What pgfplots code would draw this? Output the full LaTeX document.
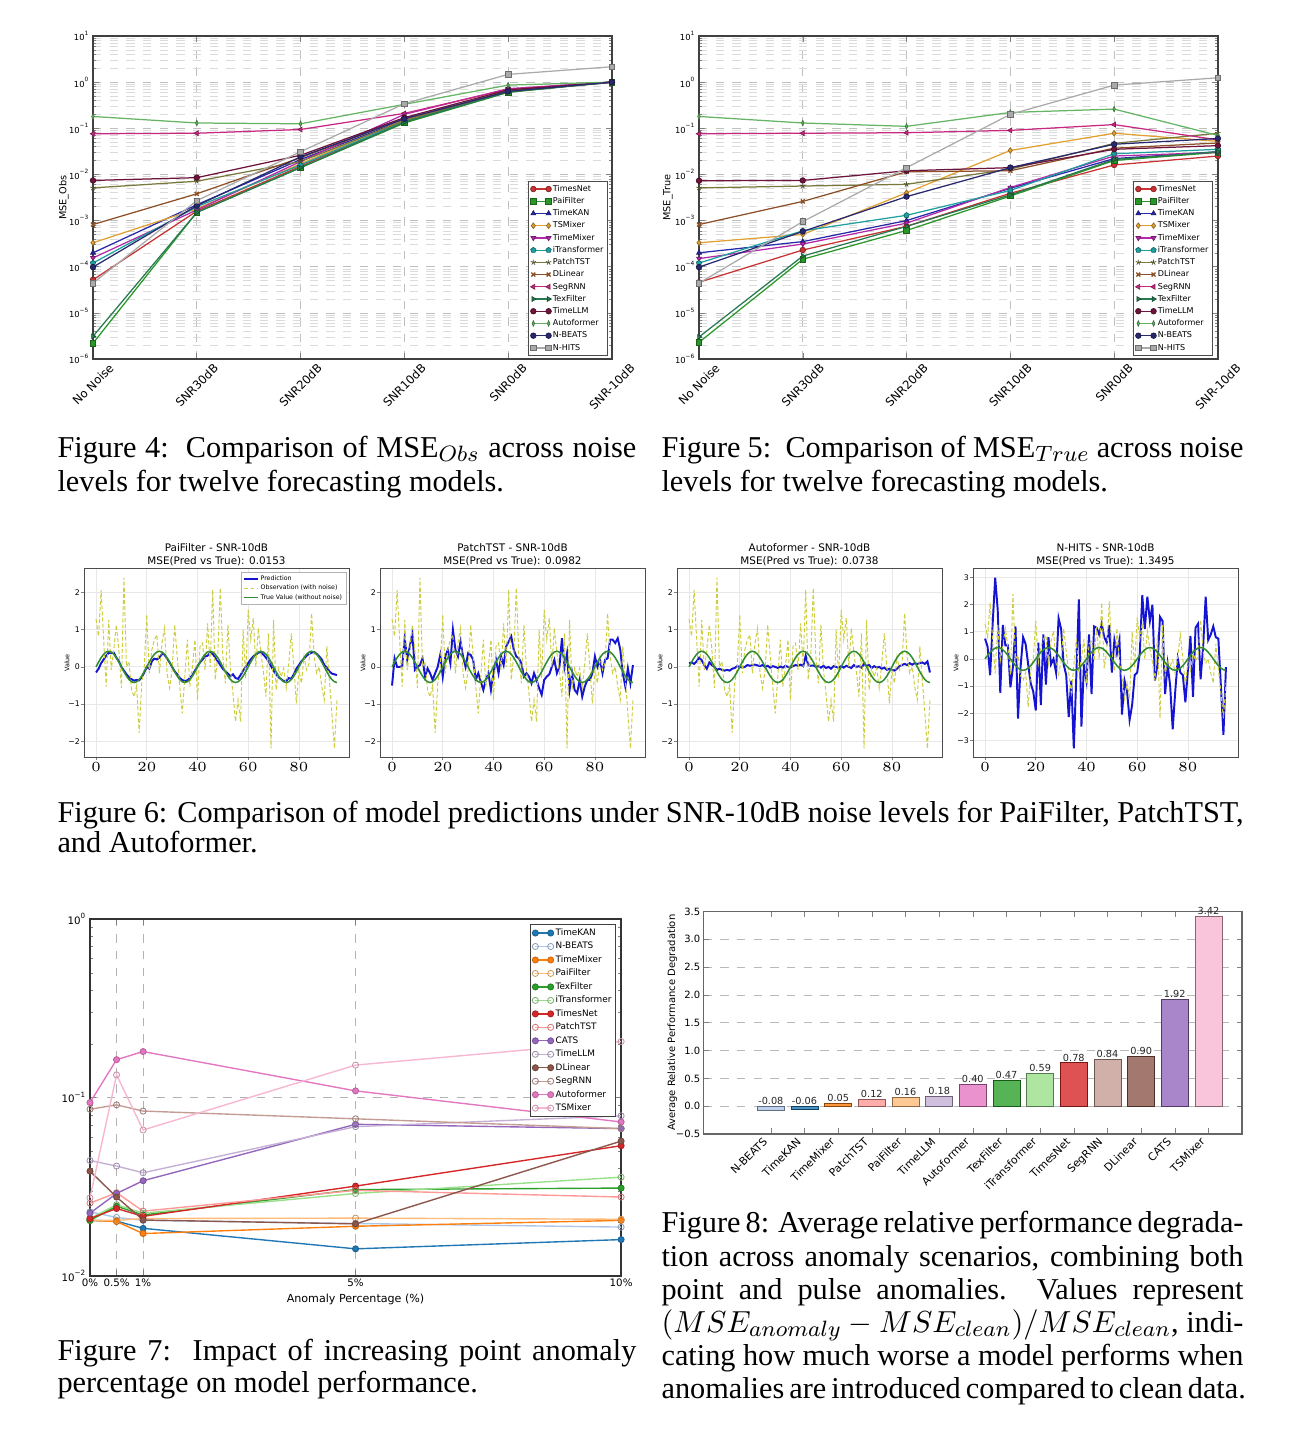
\documentclass[border=0pt]{standalone}
\usepackage{graphicx}
\usepackage{pgfplots}
\pgfplotsset{compat=1.18}
\usepackage{pgfplotstable}
\usepackage{fontspec}
\setmainfont{Liberation Serif}
\newfontfamily\dv{DejaVu Sans}
\newcommand\fs[1]{\dv\fontsize{#1}{#1}\selectfont}
\newcommand\capf{\fontsize{10.9}{13}\selectfont}
\newcommand\rt[1]{\rotatebox{45}{#1}}

\definecolor{cTN}{RGB}{200,50,50}
\definecolor{cPF}{RGB}{40,150,40}
\definecolor{cTK}{RGB}{40,40,170}
\definecolor{cTS}{RGB}{225,160,50}
\definecolor{cTM}{RGB}{180,40,170}
\definecolor{cIT}{RGB}{30,160,160}
\definecolor{cPT}{RGB}{120,120,60}
\definecolor{cDL}{RGB}{140,80,40}
\definecolor{cSR}{RGB}{200,40,130}
\definecolor{cTF}{RGB}{40,120,80}
\definecolor{cLL}{RGB}{110,20,60}
\definecolor{cAF}{RGB}{100,180,100}
\definecolor{cNB}{RGB}{40,40,110}
\definecolor{cNH}{RGB}{170,170,170}

\definecolor{ta}{RGB}{31,119,180}
\definecolor{tb}{RGB}{174,199,232}
\definecolor{tc}{RGB}{255,127,14}
\definecolor{td}{RGB}{255,187,120}
\definecolor{te}{RGB}{44,160,44}
\definecolor{tf}{RGB}{152,223,138}
\definecolor{tg}{RGB}{214,39,40}
\definecolor{th}{RGB}{255,152,150}
\definecolor{ti}{RGB}{148,103,189}
\definecolor{tj}{RGB}{197,176,213}
\definecolor{tk}{RGB}{140,86,75}
\definecolor{tl}{RGB}{196,156,148}
\definecolor{tm}{RGB}{227,119,194}
\definecolor{tn}{RGB}{247,182,210}

\definecolor{obscol}{RGB}{205,205,65}
\definecolor{truecol}{RGB}{50,140,50}
\definecolor{predcol}{RGB}{20,20,210}

\pgfplotstableread{
x TN PF TK TS TM IT PT DL SR TF LL AF NB NH
0 5.2e-5 2.2e-6 2.0e-4 3.3e-4 1.55e-4 1.2e-4 5.1e-3 8.2e-4 0.076 3.1e-6 7.4e-3 0.18 9.8e-5 4.4e-5
1 1.6e-3 1.5e-3 2.2e-3 1.8e-3 1.7e-3 2.0e-3 7.1e-3 3.8e-3 0.078 1.5e-3 8.5e-3 0.13 2.1e-3 2.7e-3
2 0.015 0.014 0.021 0.017 0.019 0.016 0.019 0.023 0.094 0.014 0.026 0.125 0.024 0.031
3 0.14 0.13 0.15 0.15 0.20 0.14 0.145 0.16 0.21 0.135 0.17 0.33 0.16 0.34
4 0.62 0.60 0.64 0.66 0.72 0.64 0.65 0.62 0.70 0.61 0.68 0.86 0.63 1.47
5 1.0 1.0 1.0 1.0 1.0 1.0 1.0 1.0 1.0 1.0 1.0 1.0 1.0 2.15
}\figfour

\pgfplotstableread{
x TN PF TK TS TM IT PT DL SR TF LL AF NB NH
0 4.6e-5 2.3e-6 2.0e-4 3.3e-4 1.5e-4 1.2e-4 5.1e-3 8.2e-4 0.076 3.0e-6 7.3e-3 0.18 9.8e-5 4.4e-5
1 2.3e-4 1.45e-4 3.5e-4 5.0e-4 3.1e-4 6.0e-4 5.6e-3 2.6e-3 0.078 1.7e-4 7.4e-3 0.13 5.8e-4 9.5e-4
2 7.5e-4 6.1e-4 1.0e-3 4.0e-3 8.8e-4 1.3e-3 6.1e-3 0.0114 0.08 7.5e-4 0.012 0.11 3.3e-3 0.014
3 3.9e-3 3.4e-3 5.0e-3 0.033 5.2e-3 4.5e-3 0.013 0.012 0.09 3.6e-3 0.014 0.22 0.014 0.20
4 0.016 0.020 0.022 0.078 0.025 0.028 0.047 0.037 0.12 0.021 0.035 0.26 0.045 0.86
5 0.025 0.030 0.031 0.052 0.030 0.035 0.078 0.048 0.056 0.031 0.042 0.070 0.060 1.24
}\figfive

\pgfplotstableread{
t obs true p1 p2 p3 p4
0 1.28 0.000 -0.15 -0.50 0.10 0.75
1 0.82 0.130 -0.05 0.23 0.12 0.45
2 2.07 0.247 0.10 0.00 0.08 -0.60
3 0.73 0.340 0.20 0.00 0.15 1.30
4 -0.53 0.399 0.30 0.02 0.25 3.00
5 1.26 0.420 0.38 0.77 0.18 1.80
6 -0.08 0.399 0.37 0.19 0.05 -1.25
7 0.46 0.340 0.38 0.55 -0.05 1.25
8 1.13 0.247 0.25 0.90 0.12 0.50
9 0.46 0.130 0.15 -0.08 0.05 0.50
10 -0.57 0.000 0.00 0.00 0.00 -1.05
11 2.40 -0.130 -0.10 0.05 -0.08 -0.30
12 0.00 -0.247 -0.20 0.23 -0.05 1.20
13 0.14 -0.340 -0.28 -0.26 -0.08 -2.20
14 -0.62 -0.399 -0.33 -0.04 -0.10 -0.30
15 -0.80 -0.420 -0.37 -0.17 -0.08 0.80
16 -0.50 -0.399 -0.35 -0.35 -0.10 0.55
17 -1.77 -0.340 -0.36 -0.17 -0.05 -0.20
18 -0.44 -0.247 -0.28 0.00 -0.03 -0.90
19 0.00 -0.130 -0.15 0.32 0.02 -1.20
20 1.40 0.000 0.00 -0.26 0.00 -1.90
21 -0.17 0.130 -0.05 0.28 -0.02 0.60
22 0.46 0.247 0.15 0.46 0.00 -1.70
23 0.73 0.340 0.22 0.10 0.05 0.90
24 0.86 0.399 0.20 1.00 0.03 -0.95
25 -0.17 0.420 0.25 0.46 0.05 0.80
26 0.64 0.399 0.35 0.28 0.06 -0.20
27 1.04 0.340 0.33 0.68 0.04 0.00
28 -0.17 0.247 0.22 0.28 0.02 -0.50
29 -0.57 0.130 0.12 0.00 0.05 1.50
30 -0.08 0.000 0.00 0.37 0.00 1.10
31 1.13 -0.130 -0.12 0.32 0.03 -0.20
32 0.28 -0.247 -0.20 0.19 -0.02 -0.60
33 -0.53 -0.340 -0.30 -0.35 0.02 -2.15
34 -1.25 -0.399 -0.35 -0.17 0.00 -0.80
35 -0.26 -0.420 -0.38 -0.40 -0.03 -3.30
36 0.73 -0.399 -0.36 -0.62 0.01 -0.60
37 -0.53 -0.340 -0.30 -0.35 -0.02 2.20
38 0.00 -0.247 -0.22 -0.17 0.03 -2.50
39 0.73 -0.130 -0.10 -0.62 0.00 -0.20
40 -0.89 0.000 0.02 -0.17 -0.02 -0.80
41 0.55 0.130 0.12 0.19 0.02 0.90
42 0.64 0.247 0.20 -0.17 0.05 -1.30
43 -0.08 0.340 0.28 0.28 0.03 1.20
44 1.17 0.399 0.30 0.05 0.06 1.15
45 0.00 0.420 0.38 0.55 0.02 0.90
46 2.07 0.399 0.35 0.68 0.30 1.30
47 -0.35 0.340 0.25 0.82 0.05 0.80
48 0.32 0.247 0.15 0.46 0.03 0.60
49 2.12 0.130 0.05 0.28 0.04 1.25
50 0.28 0.000 -0.05 0.23 0.00 -0.50
51 -0.44 -0.130 -0.12 0.10 0.02 0.70
52 1.13 -0.247 -0.18 -0.26 -0.02 0.20
53 -0.08 -0.340 -0.25 -0.17 0.03 0.70
54 -0.71 -0.399 -0.20 -0.26 -0.03 -2.05
55 -1.47 -0.420 -0.30 -0.44 0.00 -0.80
56 -0.89 -0.399 -0.32 -0.17 -0.05 -1.20
57 -1.47 -0.340 -0.22 -0.35 0.02 -2.25
58 1.00 -0.247 -0.10 -0.57 0.00 -1.70
59 -0.30 -0.130 0.00 -0.75 -0.03 -0.60
60 1.53 0.000 0.10 -0.35 0.02 -0.50
61 0.73 0.130 0.20 -0.26 -0.02 0.20
62 1.31 0.247 0.28 -0.20 0.03 2.35
63 0.00 0.340 0.33 0.00 0.00 1.10
64 1.04 0.399 0.38 0.19 -0.03 2.30
65 0.37 0.420 0.40 -0.17 0.05 1.40
66 -0.12 0.399 0.33 0.00 0.00 2.00
67 -0.80 0.340 0.25 0.77 0.02 -0.80
68 0.90 0.247 0.15 0.00 -0.02 -0.20
69 -2.19 0.130 0.02 0.37 0.08 1.55
70 1.26 0.000 -0.10 -0.62 0.03 1.40
71 -0.62 -0.130 -0.20 -0.17 0.05 -1.30
72 -0.04 -0.247 -0.28 -0.62 -0.03 -0.20
73 -0.26 -0.340 -0.33 -0.71 0.02 -1.00
74 -0.04 -0.399 -0.38 -0.35 -0.02 -2.60
75 -0.57 -0.420 -0.38 -0.80 0.00 -1.20
76 0.10 -0.399 -0.30 -0.53 -0.05 0.00
77 0.90 -0.340 -0.32 -0.35 -0.02 -0.50
78 0.00 -0.247 -0.20 -0.35 -0.08 -0.60
79 -0.98 -0.130 -0.05 -0.17 -0.05 -1.60
80 -0.08 0.000 0.05 0.28 -0.08 -0.40
81 -0.44 0.130 0.15 0.00 -0.10 0.85
82 0.28 0.247 0.22 0.19 -0.05 -1.40
83 -0.08 0.340 0.30 -0.17 0.02 1.15
84 0.10 0.399 0.35 0.19 0.05 1.30
85 1.44 0.420 0.38 0.23 0.08 -0.75
86 0.28 0.399 0.40 0.73 0.05 0.45
87 -0.17 0.340 0.35 0.73 0.10 2.30
88 0.00 0.247 0.28 0.64 0.06 0.70
89 -0.53 0.130 0.20 0.77 0.10 0.90
90 -0.89 0.000 0.05 0.46 0.08 1.20
91 0.55 -0.130 -0.02 -0.17 0.10 0.80
92 -0.35 -0.247 -0.12 -0.53 0.12 0.75
93 -1.25 -0.340 -0.18 -0.04 0.08 -1.00
94 -2.19 -0.399 -0.20 -0.44 0.15 -2.80
95 -0.89 -0.420 -0.22 0.05 -0.15 -0.30
}\figsix

\pgfplotstableread{
x TK NB TM PF TF IT TN PT CA LL DL SR AF TS
0 0.0205 0.0229 0.0205 0.0205 0.0205 0.0210 0.0210 0.0256 0.0225 0.0444 0.0387 0.086 0.0937 0.0274
0.5 0.0203 0.0213 0.0202 0.0205 0.0246 0.0251 0.0239 0.0293 0.0290 0.0413 0.0277 0.091 0.163 0.134
1 0.0185 0.0205 0.0173 0.0210 0.0220 0.0225 0.0216 0.0231 0.0342 0.0379 0.0206 0.084 0.181 0.0658
5 0.0142 0.0197 0.0190 0.0211 0.0305 0.0290 0.0319 0.0302 0.0708 0.0687 0.0196 0.076 0.109 0.152
10 0.0160 0.0188 0.0205 0.0208 0.0311 0.0358 0.0537 0.0277 0.0670 0.0790 0.0570 0.067 0.073 0.206
}\figseven

\tikzset{
 mk/.style n args={3}{color=#1, line width=0.45pt, mark=#2, mark size=1pt,
   mark options={solid, fill=#1, draw=#1!65!black, line width=0.25pt, #3}},
 sv/.style n args={2}{color=#1, line width=0.5pt, mark=#2, mark size=1.1pt,
   mark options={solid, fill=#1, draw=#1!80!black, line width=0.3pt}},
 obsline/.style={obscol, line width=0.35pt, dash pattern=on 1.4pt off 0.8pt},
}

\begin{document}
\begin{tikzpicture}
\useasboundingbox (0pt,0pt) rectangle (467.64pt,-514.44pt);

% ---------------- Figure 4 ----------------
\begin{axis}[anchor=south west, at={(33.48pt,-129.24pt)}, scale only axis, width=186.8pt, height=116.3pt,
   xmin=0, xmax=5, ymode=log, ymin=1e-6, ymax=10,
   xtick={0,...,5}, xticklabels={\rt{No Noise},\rt{SNR30dB},\rt{SNR20dB},\rt{SNR10dB},\rt{SNR0dB},\rt{SNR-10dB}},
   xticklabel style={anchor=north, font=\fs{4.2}, inner sep=1.2pt},
   ytick={1e-6,1e-5,1e-4,1e-3,1e-2,1e-1,1,10},
   yticklabels={10\textsuperscript{−6},10\textsuperscript{−5},10\textsuperscript{−4},10\textsuperscript{−3},10\textsuperscript{−2},10\textsuperscript{−1},10\textsuperscript{0},10\textsuperscript{1}},
   yticklabel style={font=\fs{3}, inner sep=1pt},
   ylabel={MSE\_Obs}, ylabel style={font=\fs{3.5}, at={(axis description cs:-0.056,0.5)}, anchor=center},
   grid=both, major grid style={dashed, gray!50, line width=0.25pt},
   minor grid style={dashed, gray!28, line width=0.2pt},
   tick align=inside, major tick length=2pt, minor tick length=1pt,
   axis line style={black!75, line width=0.45pt},
   legend cell align=left,
   legend style={at={(0.992,0.009)}, anchor=south east, font=\fs{2.9}, draw=black!70, line width=0.35pt, inner sep=0.8pt, row sep=0.45pt,
     nodes={inner sep=0.55pt, text height=2.25pt, text depth=0.6pt}},
   legend image code/.code={\draw[#1] plot coordinates {(0pt,0pt) (5.5pt,0pt)};}]
\addplot[mk={cTN}{*}{}] table[x=x,y=TN]{\figfour};
\addplot[mk={cPF}{square*}{}] table[x=x,y=PF]{\figfour};
\addplot[mk={cTK}{triangle*}{}] table[x=x,y=TK]{\figfour};
\addplot[mk={cTS}{diamond*}{}] table[x=x,y=TS]{\figfour};
\addplot[mk={cTM}{triangle*}{rotate=180}] table[x=x,y=TM]{\figfour};
\addplot[mk={cIT}{pentagon*}{}] table[x=x,y=IT]{\figfour};
\addplot[mk={cPT}{star}{}] table[x=x,y=PT]{\figfour};
\addplot[mk={cDL}{x}{line width=0.5pt, draw=cDL}] table[x=x,y=DL]{\figfour};
\addplot[mk={cSR}{triangle*}{rotate=90}] table[x=x,y=SR]{\figfour};
\addplot[mk={cTF}{triangle*}{rotate=-90}] table[x=x,y=TF]{\figfour};
\addplot[mk={cLL}{*}{}] table[x=x,y=LL]{\figfour};
\addplot[mk={cAF}{diamond*}{xscale=0.6}] table[x=x,y=AF]{\figfour};
\addplot[mk={cNB}{*}{}] table[x=x,y=NB]{\figfour};
\addplot[mk={cNH}{square*}{}] table[x=x,y=NH]{\figfour};
\legend{TimesNet,PaiFilter,TimeKAN,TSMixer,TimeMixer,iTransformer,PatchTST,DLinear,SegRNN,TexFilter,TimeLLM,Autoformer,N-BEATS,N-HITS}
\end{axis}

% ---------------- Figure 5 ----------------
\begin{axis}[anchor=south west, at={(251.64pt,-129.24pt)}, scale only axis, width=186.8pt, height=116.3pt,
   xmin=0, xmax=5, ymode=log, ymin=1e-6, ymax=10,
   xtick={0,...,5}, xticklabels={\rt{No Noise},\rt{SNR30dB},\rt{SNR20dB},\rt{SNR10dB},\rt{SNR0dB},\rt{SNR-10dB}},
   xticklabel style={anchor=north, font=\fs{4.2}, inner sep=1.2pt},
   ytick={1e-6,1e-5,1e-4,1e-3,1e-2,1e-1,1,10},
   yticklabels={10\textsuperscript{−6},10\textsuperscript{−5},10\textsuperscript{−4},10\textsuperscript{−3},10\textsuperscript{−2},10\textsuperscript{−1},10\textsuperscript{0},10\textsuperscript{1}},
   yticklabel style={font=\fs{3}, inner sep=1pt},
   ylabel={MSE\_True}, ylabel style={font=\fs{3.5}, at={(axis description cs:-0.06,0.5)}, anchor=center},
   grid=both, major grid style={dashed, gray!50, line width=0.25pt},
   minor grid style={dashed, gray!28, line width=0.2pt},
   tick align=inside, major tick length=2pt, minor tick length=1pt,
   axis line style={black!75, line width=0.45pt},
   legend cell align=left,
   legend style={at={(0.990,0.009)}, anchor=south east, font=\fs{2.9}, draw=black!70, line width=0.35pt, inner sep=0.8pt, row sep=0.45pt,
     nodes={inner sep=0.55pt, text height=2.25pt, text depth=0.6pt}},
   legend image code/.code={\draw[#1] plot coordinates {(0pt,0pt) (5.5pt,0pt)};}]
\addplot[mk={cTN}{*}{}] table[x=x,y=TN]{\figfive};
\addplot[mk={cPF}{square*}{}] table[x=x,y=PF]{\figfive};
\addplot[mk={cTK}{triangle*}{}] table[x=x,y=TK]{\figfive};
\addplot[mk={cTS}{diamond*}{}] table[x=x,y=TS]{\figfive};
\addplot[mk={cTM}{triangle*}{rotate=180}] table[x=x,y=TM]{\figfive};
\addplot[mk={cIT}{pentagon*}{}] table[x=x,y=IT]{\figfive};
\addplot[mk={cPT}{star}{}] table[x=x,y=PT]{\figfive};
\addplot[mk={cDL}{x}{line width=0.5pt, draw=cDL}] table[x=x,y=DL]{\figfive};
\addplot[mk={cSR}{triangle*}{rotate=90}] table[x=x,y=SR]{\figfive};
\addplot[mk={cTF}{triangle*}{rotate=-90}] table[x=x,y=TF]{\figfive};
\addplot[mk={cLL}{*}{}] table[x=x,y=LL]{\figfive};
\addplot[mk={cAF}{diamond*}{xscale=0.6}] table[x=x,y=AF]{\figfive};
\addplot[mk={cNB}{*}{}] table[x=x,y=NB]{\figfive};
\addplot[mk={cNH}{square*}{}] table[x=x,y=NH]{\figfive};
\legend{TimesNet,PaiFilter,TimeKAN,TSMixer,TimeMixer,iTransformer,PatchTST,DLinear,SegRNN,TexFilter,TimeLLM,Autoformer,N-BEATS,N-HITS}
\end{axis}

% ---------------- Figure 6 ----------------
\begin{axis}[anchor=south west, at={(30.24pt,-272.52pt)}, scale only axis, width=95.4pt, height=67.7pt,
   xmin=-4.75, xmax=99.75, xtick={0,20,40,60,80},
   ymin=-2.42, ymax=2.63, ytick={-2,...,2}, yticklabels={−2,−1,0,1,2},
   tick label style={font=\fs{2.8}}, xticklabel style={yshift=2.8pt}, yticklabel style={xshift=3.2pt},
   tick align=outside, tick pos=left,
   major tick length=1.2pt, grid=major, grid style={gray!18, line width=0.3pt},
   axis line style={gray!60!black, line width=0.35pt},
   ylabel={Value}, ylabel style={font=\fs{2.3}, at={(axis description cs:-0.064,0.5)}, anchor=center},
   title style={font=\dv\fontsize{3.75}{4.6}\selectfont, align=center, inner sep=0.8pt, yshift=-5.9pt},
   title={PaiFilter - SNR-10dB\\MSE(Pred vs True): 0.0153},
   legend cell align=left,
   legend style={at={(0.99,0.985)}, anchor=north east, font=\fs{2.25}, draw=gray!60, line width=0.3pt,
     inner sep=0.9pt, row sep=0.25pt, nodes={inner sep=0.5pt, text height=1.65pt, text depth=0.45pt}},
   legend image code/.code={\draw[#1] (0pt,0pt) -- (5pt,0pt);}]
\addplot[predcol, line width=0.7pt] table[x=t,y=p1]{\figsix};
\addplot[obsline] table[x=t,y=obs]{\figsix};
\addplot[truecol, line width=0.55pt] table[x=t,y=true]{\figsix};
\legend{Prediction,Observation (with noise),True Value (without noise)}
\end{axis}

\begin{axis}[anchor=south west, at={(136.8pt,-272.52pt)}, scale only axis, width=95.4pt, height=67.7pt,
   xmin=-4.75, xmax=99.75, xtick={0,20,40,60,80},
   ymin=-2.42, ymax=2.63, ytick={-2,...,2}, yticklabels={−2,−1,0,1,2},
   tick label style={font=\fs{2.8}}, xticklabel style={yshift=2.8pt}, yticklabel style={xshift=3.2pt},
   tick align=outside, tick pos=left,
   major tick length=1.2pt, grid=major, grid style={gray!18, line width=0.3pt},
   axis line style={gray!60!black, line width=0.35pt},
   ylabel={Value}, ylabel style={font=\fs{2.3}, at={(axis description cs:-0.064,0.5)}, anchor=center},
   title style={font=\dv\fontsize{3.75}{4.6}\selectfont, align=center, inner sep=0.8pt, yshift=-5.9pt},
   title={PatchTST - SNR-10dB\\MSE(Pred vs True): 0.0982}]
\addplot[predcol, line width=0.7pt] table[x=t,y=p2]{\figsix};
\addplot[obsline] table[x=t,y=obs]{\figsix};
\addplot[truecol, line width=0.55pt] table[x=t,y=true]{\figsix};
\end{axis}

\begin{axis}[anchor=south west, at={(243.72pt,-272.52pt)}, scale only axis, width=95.4pt, height=67.7pt,
   xmin=-4.75, xmax=99.75, xtick={0,20,40,60,80},
   ymin=-2.42, ymax=2.63, ytick={-2,...,2}, yticklabels={−2,−1,0,1,2},
   tick label style={font=\fs{2.8}}, xticklabel style={yshift=2.8pt}, yticklabel style={xshift=3.2pt},
   tick align=outside, tick pos=left,
   major tick length=1.2pt, grid=major, grid style={gray!18, line width=0.3pt},
   axis line style={gray!60!black, line width=0.35pt},
   ylabel={Value}, ylabel style={font=\fs{2.3}, at={(axis description cs:-0.064,0.5)}, anchor=center},
   title style={font=\dv\fontsize{3.75}{4.6}\selectfont, align=center, inner sep=0.8pt, yshift=-5.9pt},
   title={Autoformer - SNR-10dB\\MSE(Pred vs True): 0.0738}]
\addplot[predcol, line width=0.7pt] table[x=t,y=p3]{\figsix};
\addplot[obsline] table[x=t,y=obs]{\figsix};
\addplot[truecol, line width=0.55pt] table[x=t,y=true]{\figsix};
\end{axis}

\begin{axis}[anchor=south west, at={(350.28pt,-272.52pt)}, scale only axis, width=95.4pt, height=67.7pt,
   xmin=-4.75, xmax=99.75, xtick={0,20,40,60,80},
   ymin=-3.62, ymax=3.32, ytick={-3,...,3}, yticklabels={−3,−2,−1,0,1,2,3},
   tick label style={font=\fs{2.8}}, xticklabel style={yshift=2.8pt}, yticklabel style={xshift=3.2pt},
   tick align=outside, tick pos=left,
   major tick length=1.2pt, grid=major, grid style={gray!18, line width=0.3pt},
   axis line style={gray!60!black, line width=0.35pt},
   ylabel={Value}, ylabel style={font=\fs{2.3}, at={(axis description cs:-0.064,0.5)}, anchor=center},
   title style={font=\dv\fontsize{3.75}{4.6}\selectfont, align=center, inner sep=0.8pt, yshift=-5.9pt},
   title={N-HITS - SNR-10dB\\MSE(Pred vs True): 1.3495}]
\addplot[predcol, line width=0.7pt] table[x=t,y=p4]{\figsix};
\addplot[obsline] table[x=t,y=obs]{\figsix};
\addplot[truecol, line width=0.55pt] table[x=t,y=true]{\figsix};
\end{axis}

% ---------------- Figure 7 ----------------
\begin{axis}[anchor=south west, at={(32.4pt,-459.36pt)}, scale only axis, width=191.2pt, height=128.5pt,
  xmin=0, xmax=10, ymode=log, ymin=0.01, ymax=1,
  xtick={0,0.5,1,5,10}, xticklabels={0\%,0.5\%,1\%,5\%,10\%},
  xticklabel style={font=\fs{3.7}, inner sep=1pt},
  ytick={0.01,0.1,1}, yticklabels={10\textsuperscript{−2},10\textsuperscript{−1},10\textsuperscript{0}},
  yticklabel style={font=\fs{3.7}, inner sep=1pt},
  xlabel={Anomaly Percentage (\%)}, xlabel style={font=\fs{4}, yshift=2pt},
  grid=major, major grid style={dashed, gray!60, line width=0.3pt},
  tick align=inside, major tick length=2.2pt, minor tick length=1.2pt,
  axis line style={black!80, line width=0.45pt},
  legend cell align=left,
  legend style={at={(0.9906,0.986)}, anchor=north east, font=\fs{3.2}, draw=black!75, line width=0.35pt,
    inner sep=0.8pt, row sep=0.35pt, nodes={inner sep=0.7pt, text height=2.4pt, text depth=0.7pt}},
  legend image code/.code={\draw[#1] plot coordinates {(0pt,0pt) (5.5pt,0pt)};}]
\addplot[sv={ta}{*}] table[x=x,y=TK]{\figseven};
\addplot[sv={tb}{o}] table[x=x,y=NB]{\figseven};
\addplot[sv={tc}{*}] table[x=x,y=TM]{\figseven};
\addplot[sv={td}{o}] table[x=x,y=PF]{\figseven};
\addplot[sv={te}{*}] table[x=x,y=TF]{\figseven};
\addplot[sv={tf}{o}] table[x=x,y=IT]{\figseven};
\addplot[sv={tg}{*}] table[x=x,y=TN]{\figseven};
\addplot[sv={th}{o}] table[x=x,y=PT]{\figseven};
\addplot[sv={ti}{*}] table[x=x,y=CA]{\figseven};
\addplot[sv={tj}{o}] table[x=x,y=LL]{\figseven};
\addplot[sv={tk}{*}] table[x=x,y=DL]{\figseven};
\addplot[sv={tl}{o}] table[x=x,y=SR]{\figseven};
\addplot[sv={tm}{*}] table[x=x,y=AF]{\figseven};
\addplot[sv={tn}{o}] table[x=x,y=TS]{\figseven};
\legend{TimeKAN,N-BEATS,TimeMixer,PaiFilter,TexFilter,iTransformer,TimesNet,PatchTST,CATS,TimeLLM,DLinear,SegRNN,Autoformer,TSMixer}
\end{axis}

% ---------------- Figure 8 ----------------
\begin{axis}[anchor=south west, at={(253.26pt,-408.24pt)}, scale only axis, width=193.9pt, height=80.1pt,
  ybar, bar width=0.8, bar shift=0pt,
  xmin=-2, xmax=14, ymin=-0.5, ymax=3.5,
  xtick={0,...,13},
  xticklabels={\rt{N-BEATS},\rt{TimeKAN},\rt{TimeMixer},\rt{PatchTST},\rt{PaiFilter},\rt{TimeLLM},\rt{Autoformer},\rt{TexFilter},\rt{iTransformer},\rt{TimesNet},\rt{SegRNN},\rt{DLinear},\rt{CATS},\rt{TSMixer}},
  xticklabel style={anchor=north east, font=\fs{3.9}, inner sep=0.8pt},
  ytick={-0.5,0,0.5,1,1.5,2,2.5,3,3.5},
  yticklabels={−0.5,0.0,0.5,1.0,1.5,2.0,2.5,3.0,3.5},
  yticklabel style={font=\fs{3.6}, inner sep=1pt},
  ylabel={Average Relative Performance Degradation}, ylabel style={font=\fs{3.6}, at={(axis description cs:-0.058,0.5)}, anchor=center},
  ymajorgrids, major grid style={dashed, gray!55, line width=0.3pt},
  tick align=inside, major tick length=2pt,
  axis line style={black!60, line width=0.45pt}]
\addplot[fill=tb!80!white, draw=tb!55!black, line width=0.3pt] coordinates {(0,-0.08)};
\addplot[fill=ta!80!white, draw=ta!55!black, line width=0.3pt] coordinates {(1,-0.06)};
\addplot[fill=tc!80!white, draw=tc!55!black, line width=0.3pt] coordinates {(2,0.05)};
\addplot[fill=th!80!white, draw=th!55!black, line width=0.3pt] coordinates {(3,0.12)};
\addplot[fill=td!80!white, draw=td!55!black, line width=0.3pt] coordinates {(4,0.16)};
\addplot[fill=tj!80!white, draw=tj!55!black, line width=0.3pt] coordinates {(5,0.18)};
\addplot[fill=tm!80!white, draw=tm!55!black, line width=0.3pt] coordinates {(6,0.40)};
\addplot[fill=te!80!white, draw=te!55!black, line width=0.3pt] coordinates {(7,0.47)};
\addplot[fill=tf!80!white, draw=tf!55!black, line width=0.3pt] coordinates {(8,0.59)};
\addplot[fill=tg!80!white, draw=tg!55!black, line width=0.3pt] coordinates {(9,0.78)};
\addplot[fill=tl!80!white, draw=tl!55!black, line width=0.3pt] coordinates {(10,0.84)};
\addplot[fill=tk!80!white, draw=tk!55!black, line width=0.3pt] coordinates {(11,0.90)};
\addplot[fill=ti!80!white, draw=ti!55!black, line width=0.3pt] coordinates {(12,1.92)};
\addplot[fill=tn!80!white, draw=tn!55!black, line width=0.3pt] coordinates {(13,3.42)};
\addplot[draw=none, fill=none, nodes near coords, point meta=explicit symbolic,
  every node near coord/.append style={font=\fs{3.5}, inner sep=0.4pt, black!85}]
  table[meta=l] {
x y l
0 0.0 -0.08
1 0.0 -0.06
2 0.05 0.05
3 0.12 0.12
4 0.16 0.16
5 0.18 0.18
6 0.40 0.40
7 0.47 0.47
8 0.59 0.59
9 0.78 0.78
10 0.84 0.84
11 0.90 0.90
12 1.92 1.92
13 3.42 3.42
};
\end{axis}

% ---------------- Captions ----------------
\node[anchor=base west, inner sep=0, font=\capf] at (20.52pt,-164.52pt) {\makebox[208.4pt][s]{Figure 4:\ \ Comparison of MSE$_{Obs}$ across noise}};
\node[anchor=base west, inner sep=0, font=\capf] at (20.52pt,-176.76pt) {levels for twelve forecasting models.};
\node[anchor=base west, inner sep=0, font=\capf] at (237.96pt,-164.52pt) {\makebox[209.5pt][s]{Figure 5:\ \ Comparison of MSE$_{True}$ across noise}};
\node[anchor=base west, inner sep=0, font=\capf] at (237.96pt,-176.76pt) {levels for twelve forecasting models.};
\node[anchor=base west, inner sep=0, font=\capf] at (20.52pt,-295.92pt) {\makebox[427pt][s]{Figure 6: Comparison of model predictions under SNR-10dB noise levels for PaiFilter, PatchTST,}};
\node[anchor=base west, inner sep=0, font=\capf] at (20.52pt,-306.72pt) {and Autoformer.};
\node[anchor=base west, inner sep=0, font=\capf] at (20.52pt,-489.6pt) {\makebox[208.4pt][s]{Figure 7:\ \ Impact of increasing point anomaly}};
\node[anchor=base west, inner sep=0, font=\capf] at (20.52pt,-501.12pt) {percentage on model performance.};
\node[anchor=base west, inner sep=0, font=\capf] at (237.96pt,-443.52pt) {\makebox[209.5pt][s]{Figure 8: Average relative performance degrada-}};
\node[anchor=base west, inner sep=0, font=\capf] at (237.96pt,-455.76pt) {\makebox[209.5pt][s]{tion across anomaly scenarios, combining both}};
\node[anchor=base west, inner sep=0, font=\capf] at (237.96pt,-467.64pt) {\makebox[209.5pt][s]{point and pulse anomalies.\ \ Values represent}};
\node[anchor=base west, inner sep=0, font=\capf] at (237.96pt,-479.52pt) {\makebox[209.5pt][s]{$(MSE_{anomaly}-MSE_{clean})/MSE_{clean}$, indi-}};
\node[anchor=base west, inner sep=0, font=\capf] at (237.96pt,-491.4pt) {\makebox[209.5pt][s]{cating how much worse a model performs when}};
\node[anchor=base west, inner sep=0, font=\capf] at (237.96pt,-503.28pt) {\makebox[209.5pt][s]{anomalies are introduced compared to clean data.}};
\end{tikzpicture}
\end{document}
